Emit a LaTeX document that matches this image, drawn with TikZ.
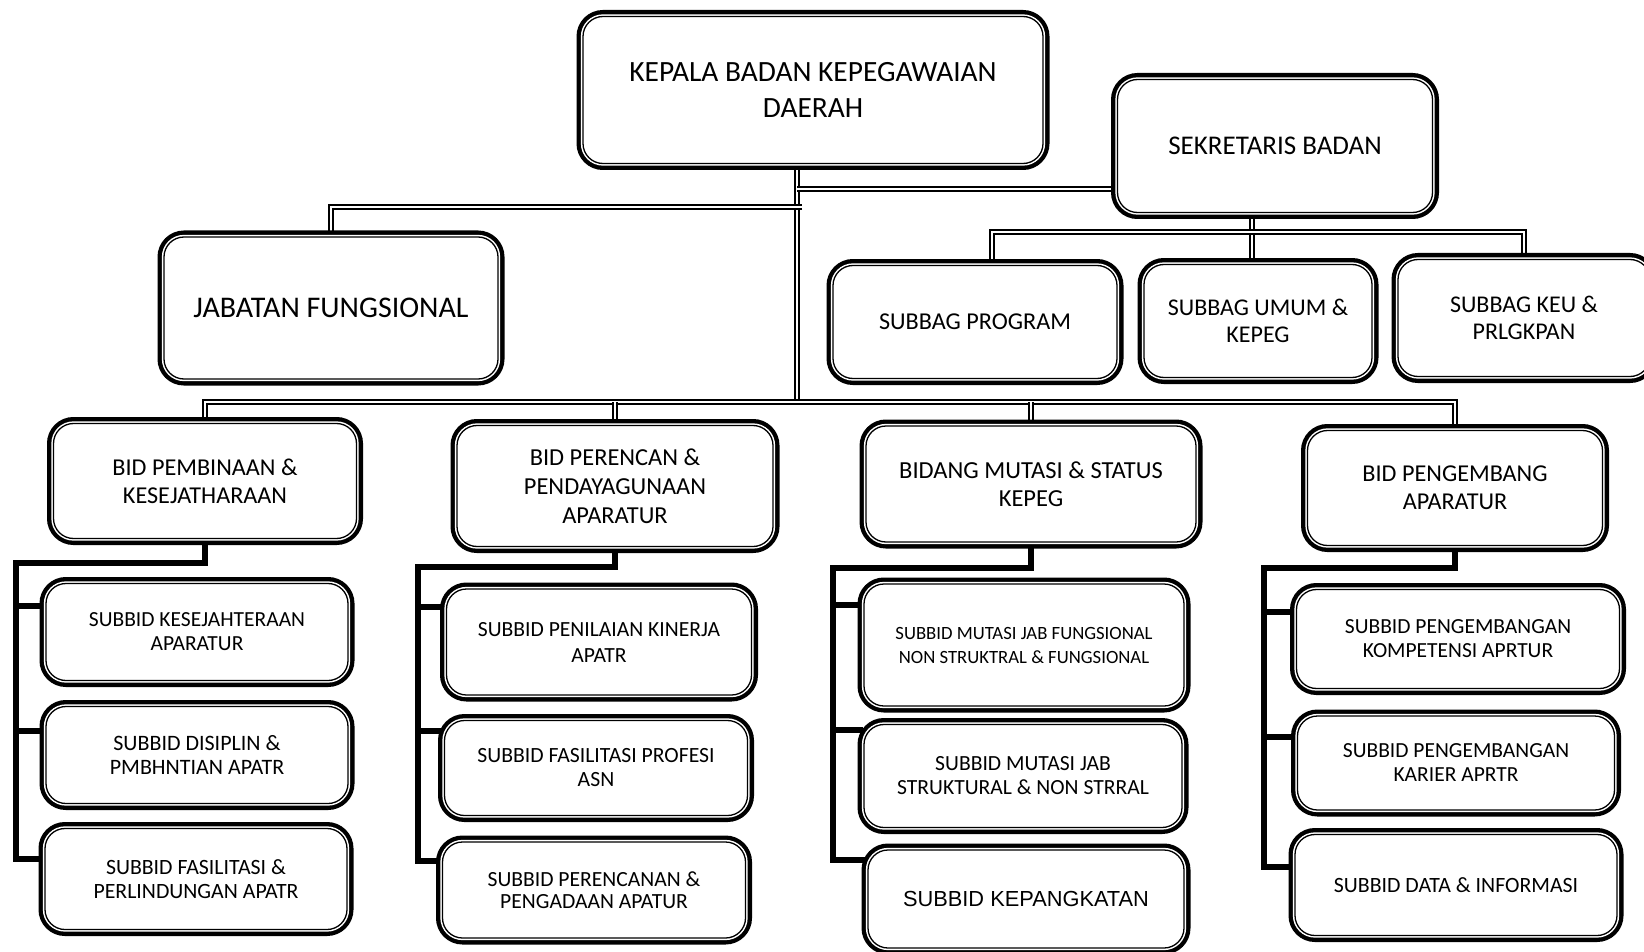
\documentclass[tikz,border=0pt]{standalone}
\usepackage{fontspec}
\setmainfont{Carlito}
\newfontfamily\arialfont{Liberation Sans}
\usetikzlibrary{calc,backgrounds}

\begin{document}
\begin{tikzpicture}[x=1pt,y=-1pt]
\tikzstyle{unit} = [draw, line width=1.3pt, fill=white, rounded corners=20pt,
    align=center, inner sep=0pt,
    preaction={draw=black, line width=13pt},
    preaction={draw=white, line width=4.3pt}]
\tikzstyle{dbl} = [draw, line width=2.3pt, double, double distance=1.4pt]
\tikzstyle{bar} = [draw, line width=5.5pt]
\useasboundingbox (0,0) rectangle (1644,952);
\clip (0,0) rectangle (1644,952);

% top level
\node[unit, minimum width=460pt, minimum height=147pt, font=\fontsize{29.4}{36}\selectfont]
    (kepala) at (813,90) {KEPALA BADAN KEPEGAWAIAN\\DAERAH};
\node[unit, minimum width=315pt, minimum height=133pt, font=\fontsize{27}{33}\selectfont]
    (sekretaris) at (1275,146) {SEKRETARIS BADAN};
\node[unit, minimum width=334pt, minimum height=142pt, font=\fontsize{30}{36}\selectfont]
    (jabatan) at (331,308) {JABATAN FUNGSIONAL};

% subbag
\node[unit, minimum width=284pt, minimum height=113pt, font=\fontsize{24.2}{28}\selectfont]
    (program) at (975,322) {SUBBAG PROGRAM};
\node[unit, minimum width=228pt, minimum height=113pt, font=\fontsize{24}{27}\selectfont]
    (umum) at (1258,321) {SUBBAG UMUM \&\\KEPEG};
\node[unit, minimum width=252pt, minimum height=117pt, font=\fontsize{24}{27}\selectfont]
    (keu) at (1524,318) {SUBBAG KEU \&\\PRLGKPAN};

% bidang
\node[unit, minimum width=303pt, minimum height=115pt, font=\fontsize{24.2}{28}\selectfont]
    (bid1) at (205,481) {BID PEMBINAAN \&\\KESEJATHARAAN};
\node[unit, minimum width=316pt, minimum height=121pt, font=\fontsize{24.4}{29}\selectfont]
    (bid2) at (615,486) {BID PERENCAN \&\\PENDAYAGUNAAN\\APARATUR};
\node[unit, minimum width=330pt, minimum height=116pt, font=\fontsize{24.5}{28}\selectfont]
    (bid3) at (1031,484) {BIDANG MUTASI \& STATUS\\KEPEG};
\node[unit, minimum width=295pt, minimum height=115pt, font=\fontsize{24.2}{28}\selectfont]
    (bid4) at (1455,488) {BID PENGEMBANG\\APARATUR};

% subbid
\node[unit, minimum width=302pt, minimum height=97pt, font=\fontsize{21.5}{24}\selectfont]
    (s11) at (197,632) {SUBBID KESEJAHTERAAN\\APARATUR};
\node[unit, minimum width=302pt, minimum height=97pt, font=\fontsize{22}{24}\selectfont]
    (s12) at (197,755) {SUBBID DISIPLIN \&\\PMBHNTIAN APATR};
\node[unit, minimum width=302pt, minimum height=101pt, font=\fontsize{21.8}{24}\selectfont]
    (s13) at (196,879) {SUBBID FASILITASI \&\\PERLINDUNGAN APATR};
\node[unit, minimum width=305pt, minimum height=106pt, font=\fontsize{21.6}{26}\selectfont]
    (s21) at (599,642) {SUBBID PENILAIAN KINERJA\\APATR};
\node[unit, minimum width=303pt, minimum height=95pt, font=\fontsize{21.7}{24}\selectfont]
    (s22) at (596,768) {SUBBID FASILITASI PROFESI\\ASN};
\node[unit, minimum width=303pt, minimum height=96pt, font=\fontsize{21.6}{22}\selectfont]
    (s23) at (594,890) {SUBBID PERENCANAN \&\\PENGADAAN APATUR};
\node[unit, minimum width=320pt, minimum height=122pt, font=\fontsize{18.7}{24}\selectfont]
    (s31) at (1024,645) {SUBBID MUTASI JAB FUNGSIONAL\\NON STRUKTRAL \& FUNGSIONAL};
\node[unit, minimum width=318pt, minimum height=103pt, font=\fontsize{21.6}{24}\selectfont]
    (s32) at (1023,776) {SUBBID MUTASI JAB\\STRUKTURAL \& NON STRRAL};
\node[unit, minimum width=316pt, minimum height=98pt, font=\arialfont\fontsize{21.8}{28}\selectfont]
    (s33) at (1026,899) {SUBBID KEPANGKATAN};
\node[unit, minimum width=323pt, minimum height=99pt, font=\fontsize{21.5}{24}\selectfont]
    (s41) at (1458,639) {SUBBID PENGEMBANGAN\\KOMPETENSI APRTUR};
\node[unit, minimum width=317pt, minimum height=94pt, font=\fontsize{21.5}{24}\selectfont]
    (s42) at (1456,763) {SUBBID PENGEMBANGAN\\KARIER APRTR};
\node[unit, minimum width=322pt, minimum height=101pt, font=\fontsize{21.8}{24}\selectfont]
    (s43) at (1456,885) {SUBBID DATA \& INFORMASI};

% junctions
\coordinate (hub) at (797,402);
\coordinate (k1) at (797,189);
\coordinate (k2) at (802,207);
\coordinate (sb) at (1252,232);
\coordinate (c1) at (16,563);
\coordinate (c2) at (418,567);
\coordinate (c3) at (833,568);
\coordinate (c4) at (1264,568);
\coordinate (t11) at ([yshift=26pt]s11.west);
\coordinate (t12) at ([yshift=24pt]s12.west);
\coordinate (t13) at ([yshift=20pt]s13.west);
\coordinate (t21) at ([yshift=35pt]s21.west);
\coordinate (t22) at ([yshift=37pt]s22.west);
\coordinate (t23) at ([yshift=29pt]s23.west);
\coordinate (t31) at ([yshift=40pt]s31.west);
\coordinate (t32) at ([yshift=46pt]s32.west);
\coordinate (t33) at ([yshift=39pt]s33.west);
\coordinate (t41) at ([yshift=27pt]s41.west);
\coordinate (t42) at ([yshift=26pt]s42.west);
\coordinate (t43) at ([yshift=18pt]s43.west);

\begin{scope}[on background layer]
% double lines
\draw[dbl] (kepala.south -| hub) -- (hub);
\draw[dbl] (k1) -- (k1 -| sekretaris.west);
\draw[dbl] (k2) -| (jabatan.north);
\draw[dbl] (sekretaris.south -| sb) -- (sb |- umum.north);
\draw[dbl] ([xshift=17pt]program.north) |- (keu.north |- sb) -- (keu.north);
\draw[dbl] (bid1.north) |- (bid4.north |- hub) -- (bid4.north);
\draw[dbl] (bid2.north |- hub) -- (bid2.north);
\draw[dbl] (bid3.north |- hub) -- (bid3.north);
% brackets
\draw[bar] (bid1.south) |- (c1) |- (t13);
\draw[bar] (t11 -| c1) -- (t11);
\draw[bar] (t12 -| c1) -- (t12);
\draw[bar] (bid2.south) |- (c2) |- (t23);
\draw[bar] (t21 -| c2) -- (t21);
\draw[bar] (t22 -| c2) -- (t22);
\draw[bar] (bid3.south) |- (c3) |- (t33);
\draw[bar] (t31 -| c3) -- (t31);
\draw[bar] (t32 -| c3) -- (t32);
\draw[bar] (bid4.south) |- (c4) |- (t43);
\draw[bar] (t41 -| c4) -- (t41);
\draw[bar] (t42 -| c4) -- (t42);
\end{scope}
\end{tikzpicture}
\end{document}
